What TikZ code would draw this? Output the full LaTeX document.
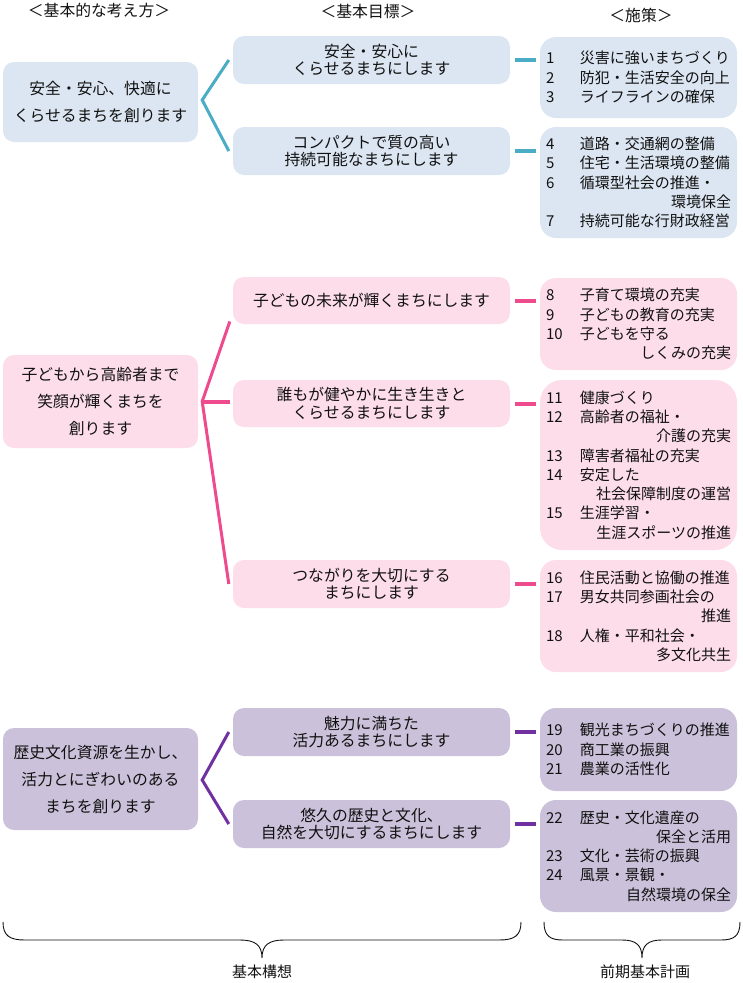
\documentclass[tikz,border=0pt]{standalone}
\usepackage{fontspec}
\setmainfont{Noto Sans CJK JP}
\definecolor{bluefill}{HTML}{DCE6F2}
\definecolor{blueline}{HTML}{4BACC6}
\definecolor{pinkfill}{HTML}{FDDDEA}
\definecolor{pinkline}{HTML}{EE4A8E}
\definecolor{purpfill}{HTML}{CCC1DA}
\definecolor{purpline}{HTML}{7030A0}
\definecolor{txt}{HTML}{111111}
\newcommand\itm[2]{\makebox[34pt][l]{#1}\makebox[151pt][l]{#2}}
\newcommand\cnt[1]{\makebox[185pt][r]{#1}}
\begin{document}
\begin{tikzpicture}[x=1pt,y=-1pt,
  box/.style={rounded corners=11pt, inner sep=0pt, align=center, text=txt},
  leftbox/.style={box, minimum width=195pt, font=\fontsize{15.8}{27}\selectfont},
  midbox/.style={box, minimum width=277pt, minimum height=48pt, font=\fontsize{15.8}{17.5}\selectfont},
  rightbox/.style={box, rounded corners=16pt, minimum width=197pt, align=left, font=\fontsize{15}{19.3}\selectfont},
  head/.style={text=txt, font=\fontsize{15.8}{18}\selectfont},
  blu/.style={fill=bluefill},
  pnk/.style={fill=pinkfill},
  prp/.style={fill=purpfill},
  tl/.style={draw=blueline, line width=3pt},
  pl/.style={draw=pinkline, line width=3pt},
  ql/.style={draw=purpline, line width=3pt},
  dsh/.style={line width=4pt}
]
\useasboundingbox (0,0) rectangle (743,983);

% headers
\node[head] (h1) at (99,10) {＜基本的な考え方＞};
\node[head] (h2) at (368,12) {＜基本目標＞};
\node[head] (h3) at (641,15) {＜施策＞};

% section 1
\node[leftbox, blu, minimum height=80pt] (L1) at (100.5,102) {安全・安心、快適に\\くらせるまちを創ります};
\node[midbox, blu] (M1) at (371.5,60) {安全・安心に\\くらせるまちにします};
\node[midbox, blu] (M2) at (371.5,151) {コンパクトで質の高い\\持続可能なまちにします};
\node[rightbox, blu, minimum height=81pt] (R1) at (638.5,77.5) {\itm{1}{災害に強いまちづくり}\\\itm{2}{防犯・生活安全の向上}\\\itm{3}{ライフラインの確保}};
\node[rightbox, blu, minimum height=111pt] (R2) at (638.5,182.5) {\itm{4}{道路・交通網の整備}\\\itm{5}{住宅・生活環境の整備}\\\itm{6}{循環型社会の推進・}\\\cnt{環境保全}\\\itm{7}{持続可能な行財政経営}};

% section 2
\node[leftbox, pnk, minimum height=93pt] (L2) at (100.5,401.5) {子どもから高齢者まで\\笑顔が輝くまちを\\創ります};
\node[midbox, pnk, minimum height=47pt] (M3) at (371.5,300.5) {子どもの未来が輝くまちにします};
\node[midbox, pnk, minimum height=47pt] (M4) at (371.5,403.5) {誰もが健やかに生き生きと\\くらせるまちにします};
\node[midbox, pnk] (M5) at (371.5,584) {つながりを大切にする\\まちにします};
\node[rightbox, pnk, minimum height=92pt] (R3) at (638.5,324) {\itm{8}{子育て環境の充実}\\\itm{9}{子どもの教育の充実}\\\itm{10}{子どもを守る}\\\cnt{しくみの充実}};
\node[rightbox, pnk, rounded corners=22pt, minimum height=170pt] (R4) at (638.5,465) {\itm{11}{健康づくり}\\\itm{12}{高齢者の福祉・}\\\cnt{介護の充実}\\\itm{13}{障害者福祉の充実}\\\itm{14}{安定した}\\\cnt{社会保障制度の運営}\\\itm{15}{生涯学習・}\\\cnt{生涯スポーツの推進}};
\node[rightbox, pnk, minimum height=112pt] (R5) at (638.5,616) {\itm{16}{住民活動と協働の推進}\\\itm{17}{男女共同参画社会の}\\\cnt{推進}\\\itm{18}{人権・平和社会・}\\\cnt{多文化共生}};

% section 3
\node[leftbox, prp, minimum height=102pt] (L3) at (100.5,779) {歴史文化資源を生かし、\\活力とにぎわいのある\\まちを創ります};
\node[midbox, prp] (M6) at (371.5,732) {魅力に満ちた\\活力あるまちにします};
\node[midbox, prp] (M7) at (371.5,824) {悠久の歴史と文化、\\自然を大切にするまちにします};
\node[rightbox, prp, minimum height=83pt] (R6) at (638.5,749.5) {\itm{19}{観光まちづくりの推進}\\\itm{20}{商工業の振興}\\\itm{21}{農業の活性化}};
\node[rightbox, prp, minimum height=112pt] (R7) at (638.5,856) {\itm{22}{歴史・文化遺産の}\\\cnt{保全と活用}\\\itm{23}{文化・芸術の振興}\\\itm{24}{風景・景観・}\\\cnt{自然環境の保全}};

% connectors left -> middle
\draw[tl] ([xshift=-4pt]M1.west) -- ([xshift=4pt,yshift=2pt]L1.east) -- ([xshift=-4pt]M2.west);
\draw[pl] ([xshift=-3pt,yshift=-21pt]M3.west) -- ([xshift=4pt]L2.east) -- ([xshift=-4pt]M5.west);
\draw[pl, line width=4pt] ([xshift=4pt]L2.east) -- ([xshift=-3pt]L2.east -| M4.west);
\draw[ql] ([xshift=-4pt]M6.west) -- ([xshift=4pt,yshift=-1pt]L3.east) -- ([xshift=-4pt]M7.west);

% connectors middle -> right
\draw[dsh, blueline] ([xshift=5pt]M1.east) -- ([xshift=-4pt]M1.east -| R1.west);
\draw[dsh, blueline] ([xshift=5pt]M2.east) -- ([xshift=-4pt]M2.east -| R2.west);
\draw[dsh, pinkline] ([xshift=5pt]M3.east) -- ([xshift=-4pt]M3.east -| R3.west);
\draw[dsh, pinkline] ([xshift=5pt]M4.east) -- ([xshift=-4pt]M4.east -| R4.west);
\draw[dsh, pinkline] ([xshift=5pt]M5.east) -- ([xshift=-4pt]M5.east -| R5.west);
\draw[dsh, purpline] ([xshift=5pt]M6.east) -- ([xshift=-4pt]M6.east -| R6.west);
\draw[dsh, purpline] ([xshift=5pt]M7.east) -- ([xshift=-4pt]M7.east -| R7.west);

% braces
\draw[line width=0.9pt, txt] (3,922) .. controls (3,936) and (10,940) .. (25,940) -- (240,940) .. controls (255,940) and (262,945) .. (262,958) .. controls (262,945) and (269,940) .. (284,940) -- (499,940) .. controls (514,940) and (521,936) .. (521,922);
\draw[line width=0.9pt, txt] (544,922) .. controls (544,936) and (550,940) .. (563,940) -- (622,940) .. controls (636,940) and (642,945) .. (642,958) .. controls (642,945) and (648,940) .. (662,940) -- (721,940) .. controls (734,940) and (740,936) .. (740,922);
\node[head, font=\fontsize{15}{18}\selectfont] (b1) at (262,972) {基本構想};
\node[head, font=\fontsize{15}{18}\selectfont] (b2) at (645,972) {前期基本計画};
\end{tikzpicture}
\end{document}
